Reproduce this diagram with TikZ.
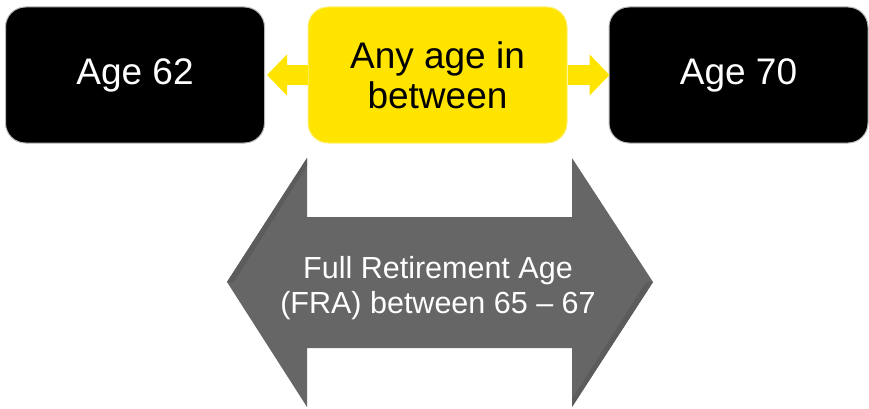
\documentclass[tikz,border=0pt]{standalone}
\usepackage{fontspec}
\setmainfont{Liberation Sans}
\usetikzlibrary{arrows.meta}
\definecolor{boxyellow}{RGB}{255,228,0}
\definecolor{yellowedge}{RGB}{255,240,120}
\definecolor{arrowgray}{RGB}{102,102,102}
\definecolor{grayedge}{RGB}{92,92,92}
\tikzset{
  blackbox/.style={rounded corners=20pt, fill=black, draw=gray!55, line width=1pt,
    minimum width=259pt, minimum height=136pt, inner sep=0pt, text=white,
    font=\fontsize{37}{40}\selectfont, align=center},
  yellowbox/.style={blackbox, fill=boxyellow, draw=yellowedge, text=black},
  yarrow/.style={draw=boxyellow, line width=20pt,
    -{Triangle[length=20pt,width=40pt]}},
  bigtext/.style={text=white, font=\fontsize{30.5}{35}\selectfont, align=center}
}
\begin{document}
\begin{tikzpicture}[x=1pt,y=-1pt]
\useasboundingbox (0,0) rectangle (869,409);
\node[blackbox] (left) at (135,75) {Age 62};
\node[yellowbox] (mid) at (437.5,75) {Any age in\\between};
\node[blackbox] (right) at (738.5,75) {Age 70};
\draw[yarrow] (mid.west) -- ([xshift=2pt]left.east);
\draw[yarrow] (mid.east) -- ([xshift=1pt]right.west);
\fill[arrowgray] (227,282) -- (307,158) -- (307,217) -- (572,217) -- (572,158)
  -- (653,282) -- (572,407) -- (572,348) -- (307,348) -- (307,407) -- cycle;
\fill[grayedge] (227,282) -- (307,158) -- (307,166) -- (234,282) -- cycle;
\fill[grayedge] (653,282) -- (572,407) -- (572,399) -- (646,282) -- cycle;
\node[bigtext] (fra) at (438,288) {Full Retirement Age\\(FRA) between 65 – 67};
\end{tikzpicture}
\end{document}
